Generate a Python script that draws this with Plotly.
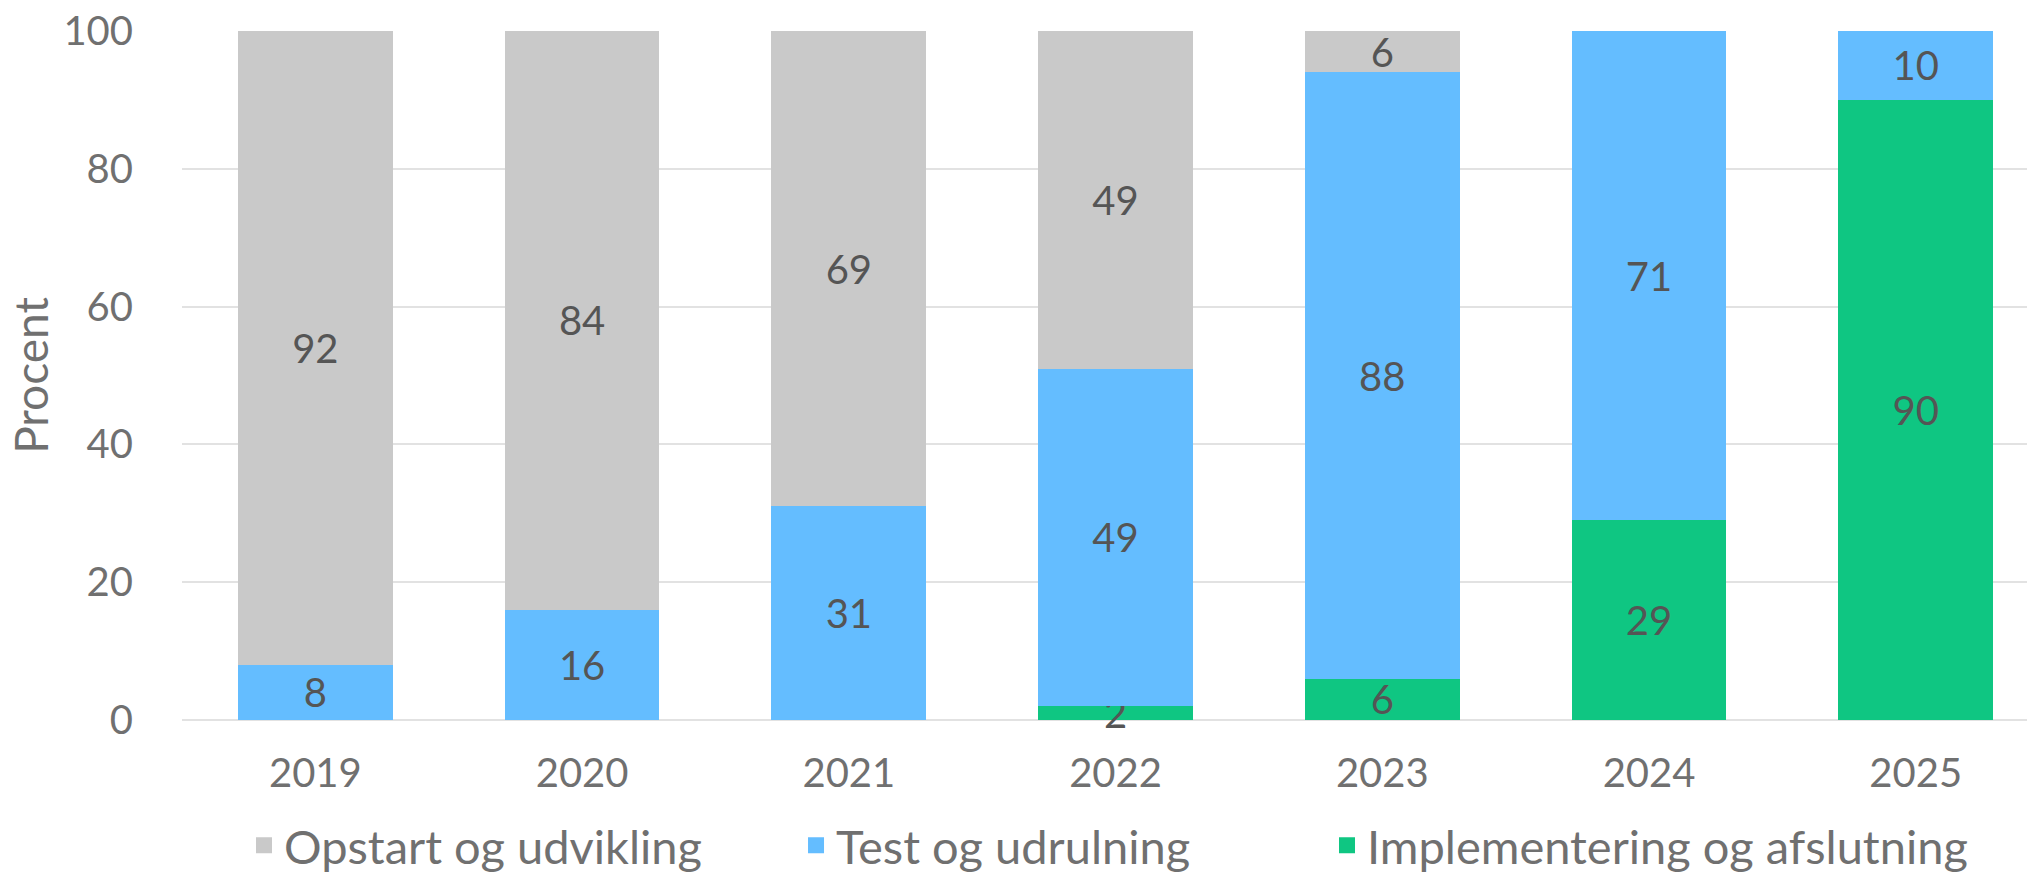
import plotly.graph_objects as go

years = ["2019", "2020", "2021", "2022", "2023", "2024", "2025"]
opstart = [92, 84, 69, 49, 6, 0, 0]
test = [8, 16, 31, 49, 88, 71, 10]
impl = [0, 0, 0, 2, 6, 29, 90]

series = [
    ("Implementering og afslutning", impl, "#0FC682"),
    ("Test og udrulning", test, "#64BDFF"),
    ("Opstart og udvikling", opstart, "#C9C9C9"),
]

FONT = "Lato"
W = 400
fig = go.Figure()
for name, vals, col in series:
    fig.add_trace(go.Bar(
        x=years, y=vals, name=name, marker=dict(color=col, line=dict(width=0)),
        text=[str(v) if v > 0 else "" for v in vals],
        textposition="inside", insidetextanchor="middle", constraintext="none",
        textfont=dict(family=FONT, size=40, color="#555555", weight=W),
        textangle=0, hoverinfo="skip", cliponaxis=False, showlegend=False,
    ))

# legend entries (larger square symbols), one legend per entry
legend_ids = ["legend", "legend2", "legend3"]
legend_x = [0.0336, 0.3328, 0.6206]
for (name, vals, col), lid in zip(reversed(series), legend_ids):
    fig.add_trace(go.Scatter(
        x=[None], y=[None], mode="markers", name=name, legend=lid,
        marker=dict(symbol="square", size=23, color=col), showlegend=True,
    ))

legend_style = dict(orientation="h", xanchor="left", y=-0.1825, yanchor="middle",
                    font=dict(family=FONT, size=47, color="#707070", weight=W),
                    bgcolor="rgba(0,0,0,0)")

fig.update_layout(
    barmode="stack", bargap=0.42,
    width=2027, height=874,
    margin=dict(l=182, r=0, t=31, b=154, autoexpand=False),
    plot_bgcolor="white", paper_bgcolor="white",
    font=dict(family=FONT, size=40, color="#707070", weight=W),
    xaxis=dict(range=[-0.5, 6.417], showgrid=False, showline=False, zeroline=False,
               automargin=False,
               ticks="outside", ticklen=18, tickcolor="rgba(0,0,0,0)",
               tickfont=dict(size=40, color="#707070", weight=W)),
    yaxis=dict(range=[0, 100], tickvals=[0, 20, 40, 60, 80, 100], showgrid=True,
               automargin=False,
               gridcolor="#e2e2e2", gridwidth=2, zeroline=True, zerolinecolor="#e2e2e2",
               zerolinewidth=2, showline=False,
               ticks="outside", ticklen=40, tickcolor="rgba(0,0,0,0)",
               tickfont=dict(size=40, color="#707070", weight=W),
               title=dict(text="Procent", font=dict(size=46, color="#707070", weight=W), standoff=0)),
    legend=dict(x=legend_x[0], **legend_style),
    legend2=dict(x=legend_x[1], **legend_style),
    legend3=dict(x=legend_x[2], **legend_style),
    showlegend=True,
)

fig.write_html("out.html", post_script="document.body.style.margin='0';",
               config={"displayModeBar": False})
